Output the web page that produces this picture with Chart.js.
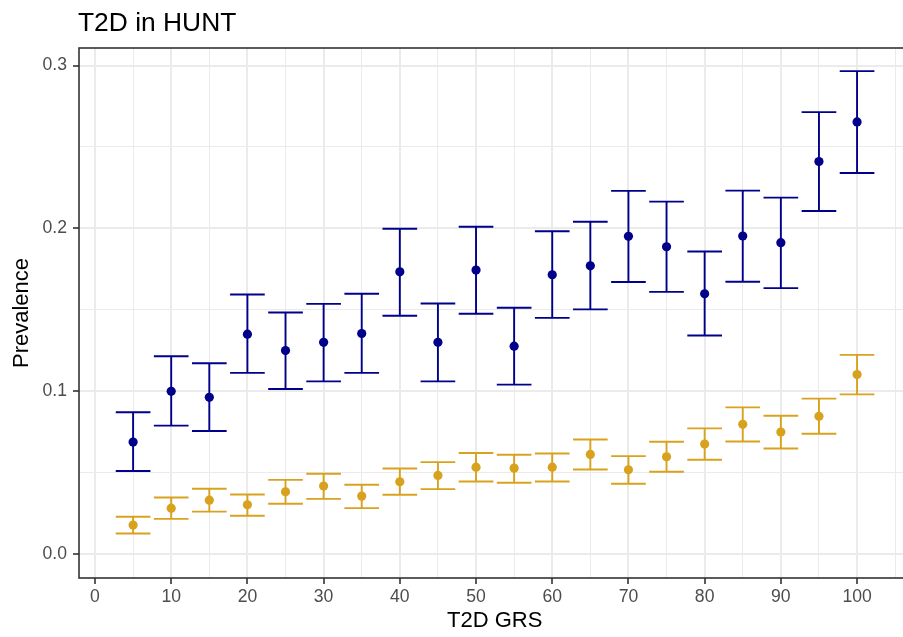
<!DOCTYPE html>
<html>
<head>
<meta charset="utf-8">
<title>T2D in HUNT</title>
<script src="https://cdn.jsdelivr.net/npm/chart.js@4.4.1/dist/chart.umd.min.js"></script>
<style>
  html, body { margin: 0; padding: 0; background: #fff; overflow: hidden; }
  /* the panel runs slightly past the right edge of the window */
  #wrap { width: 915px; height: 637px; }
</style>
</head>
<body>
<div id="wrap"><canvas id="grsChart" width="915" height="637"></canvas></div>
<script>
// GRS bins and prevalence with 95% CI per group
const grs = [5, 10, 15, 20, 25, 30, 35, 40, 45, 50, 55, 60, 65, 70, 75, 80, 85, 90, 95, 100];

const bluePrev = [0.0687, 0.0999, 0.0962, 0.1350, 0.1249, 0.1300, 0.1354, 0.1733, 0.1300, 0.1744,
                  0.1276, 0.1715, 0.1770, 0.1951, 0.1887, 0.1598, 0.1953, 0.1912, 0.2410, 0.2654];
const blueLow  = [0.0509, 0.0788, 0.0755, 0.1112, 0.1013, 0.1060, 0.1112, 0.1463, 0.1060, 0.1475,
                  0.1040, 0.1450, 0.1502, 0.1670, 0.1610, 0.1342, 0.1672, 0.1633, 0.2107, 0.2340];
const blueHigh = [0.0870, 0.1214, 0.1171, 0.1594, 0.1483, 0.1536, 0.1598, 0.1998, 0.1538, 0.2010,
                  0.1512, 0.1982, 0.2041, 0.2230, 0.2164, 0.1858, 0.2232, 0.2189, 0.2714, 0.2966];

const goldPrev = [0.0177, 0.0281, 0.0330, 0.0302, 0.0382, 0.0417, 0.0355, 0.0443, 0.0482, 0.0533,
                  0.0527, 0.0533, 0.0611, 0.0517, 0.0597, 0.0675, 0.0796, 0.0749, 0.0845, 0.1102];
const goldLow  = [0.0125, 0.0215, 0.0260, 0.0234, 0.0308, 0.0338, 0.0281, 0.0363, 0.0398, 0.0445,
                  0.0437, 0.0445, 0.0519, 0.0431, 0.0505, 0.0578, 0.0691, 0.0648, 0.0738, 0.0980];
const goldHigh = [0.0228, 0.0347, 0.0400, 0.0365, 0.0455, 0.0492, 0.0425, 0.0525, 0.0564, 0.0620,
                  0.0609, 0.0617, 0.0703, 0.0601, 0.0689, 0.0771, 0.0900, 0.0849, 0.0954, 0.1223];

// axis breaks (major + minor grid)
const xTicks = [0, 5, 10, 15, 20, 25, 30, 35, 40, 45, 50, 55, 60, 65, 70, 75, 80, 85, 90, 95, 100, 105];
const yTicks = [0, 0.05, 0.1, 0.15, 0.2, 0.25, 0.3];

const FONT = '"Liberation Sans", Arial, Helvetica, sans-serif';
const NAVY = '#00008B';
const GOLD = '#D8A21E';

const toPoints = (ys) => grs.map((x, i) => ({ x: x, y: ys[i] }));

// error bars with caps, drawn under the points
const errorBars = {
  id: 'errorBars',
  beforeDatasetsDraw(chart, args, opts) {
    const { ctx, scales: { x, y } } = chart;
    ctx.save();
    ctx.lineWidth = opts.lineWidth;
    ctx.lineCap = 'butt';
    chart.data.datasets.forEach((ds) => {
      ctx.strokeStyle = ds.borderColor;
      ds.data.forEach((p, i) => {
        const px = x.getPixelForValue(p.x);
        const xl = x.getPixelForValue(p.x - opts.capWidth / 2);
        const xr = x.getPixelForValue(p.x + opts.capWidth / 2);
        const lo = y.getPixelForValue(ds.lower[i]);
        const hi = y.getPixelForValue(ds.upper[i]);
        ctx.beginPath();
        ctx.moveTo(px, lo); ctx.lineTo(px, hi);
        ctx.moveTo(xl, lo); ctx.lineTo(xr, lo);
        ctx.moveTo(xl, hi); ctx.lineTo(xr, hi);
        ctx.stroke();
      });
    });
    ctx.restore();
  }
};

// panel border and left-aligned title
const panelFrame = {
  id: 'panelFrame',
  afterDraw(chart, args, opts) {
    const { ctx, chartArea: a } = chart;
    ctx.save();
    ctx.strokeStyle = '#333333';
    ctx.lineWidth = 1.6;
    ctx.strokeRect(a.left, a.top, a.right - a.left, a.bottom - a.top);
    ctx.fillStyle = '#000';
    ctx.font = '26.4px ' + FONT;
    ctx.textAlign = 'left';
    ctx.textBaseline = 'alphabetic';
    ctx.fillText(opts.text, a.left - 1, 31);
    ctx.restore();
  }
};

const ctx = document.getElementById('grsChart').getContext('2d');
new Chart(ctx, {
  type: 'scatter',
  data: {
    datasets: [
      {
        label: 'blue group',
        data: toPoints(bluePrev),
        lower: blueLow,
        upper: blueHigh,
        backgroundColor: NAVY,
        borderColor: NAVY,
        borderWidth: 0,
        pointRadius: 4.6
      },
      {
        label: 'gold group',
        data: toPoints(goldPrev),
        lower: goldLow,
        upper: goldHigh,
        backgroundColor: GOLD,
        borderColor: GOLD,
        borderWidth: 0,
        pointRadius: 4.6
      }
    ]
  },
  options: {
    responsive: false,
    animation: false,
    layout: { padding: { top: 48, right: 0, left: 0, bottom: 0 } },
    plugins: {
      legend: { display: false },
      tooltip: { enabled: false },
      errorBars: { capWidth: 4.55, lineWidth: 1.9 },
      panelFrame: { text: 'T2D in HUNT' }
    },
    scales: {
      x: {
        type: 'linear',
        min: -2.1,
        max: 107,
        afterBuildTicks: (axis) => { axis.ticks = xTicks.map(v => ({ value: v })); },
        afterFit: (axis) => { axis.height = 59; },
        border: { display: false },
        grid: {
          color: '#EBEBEB',
          lineWidth: (c) => (c.tick && c.tick.value % 10 === 0 ? 2 : 1),
          tickLength: 6,
          tickWidth: 1.6,
          tickColor: (c) => (c.tick && c.tick.value % 10 === 0 && c.tick.value <= 100 ? '#333333' : 'rgba(0,0,0,0)')
        },
        ticks: {
          autoSkip: false,
          maxRotation: 0,
          padding: 3,
          color: '#4D4D4D',
          font: { family: FONT, size: 17.6 },
          callback: (v) => (v % 10 === 0 && v <= 100 ? String(v) : '')
        },
        title: {
          display: true,
          text: 'T2D GRS',
          color: '#000',
          font: { family: FONT, size: 22, lineHeight: 1.2 },
          padding: { top: 0, bottom: 3 }
        }
      },
      y: {
        type: 'linear',
        min: -0.0148,
        max: 0.3108,
        afterBuildTicks: (axis) => { axis.ticks = yTicks.map(v => ({ value: v })); },
        afterFit: (axis) => { axis.width = 79; },
        border: { display: false },
        grid: {
          color: '#EBEBEB',
          lineWidth: (c) => (c.tick && Math.round(c.tick.value * 100) % 10 === 0 ? 2 : 1),
          tickLength: 6,
          tickWidth: 1.6,
          tickColor: (c) => (c.tick && Math.round(c.tick.value * 100) % 10 === 0 ? '#333333' : 'rgba(0,0,0,0)')
        },
        ticks: {
          autoSkip: false,
          padding: 6,
          color: '#4D4D4D',
          font: { family: FONT, size: 17.6 },
          callback: (v) => (Math.round(v * 100) % 10 === 0 ? v.toFixed(1) : '')
        },
        title: {
          display: true,
          text: 'Prevalence',
          color: '#000',
          font: { family: FONT, size: 22, lineHeight: 1.2 },
          padding: { top: 9, bottom: 0 }
        }
      }
    }
  },
  plugins: [errorBars, panelFrame]
});
</script>
</body>
</html>
